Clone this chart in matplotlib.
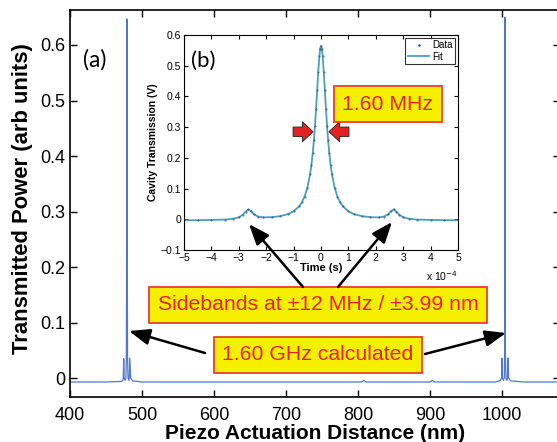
import numpy as np
import matplotlib
matplotlib.use('Agg')
import matplotlib.pyplot as plt
from matplotlib.patches import FancyArrowPatch

plt.rcParams['font.family'] = ['Liberation Sans', 'DejaVu Sans']

# main trace: piezo distance (nm) vs transmitted power
dist = [400, 450, 470, 473.0, 474.0, 474.6, 475.2, 476.5, 477.6, 478.3, 478.8, 479.1, 479.4, 479.9, 480.6,
        481.8, 482.4, 483.0, 484.2, 487, 500, 600, 700, 805, 808, 811, 820, 900, 903, 906, 915,
        990, 997.0, 999.4, 1000.0, 1000.6, 1002.0, 1003.1, 1003.6, 1004.0, 1004.3, 1004.7, 1005.4,
        1006.8, 1007.5, 1008.1, 1009.2, 1012, 1030, 1080]
power = [-0.007, -0.007, -0.006, -0.005, 0.0, 0.035, 0.0, -0.004, 0.0, 0.04, 0.30, 0.647, 0.30, 0.04, 0.0,
         -0.004, 0.0, 0.036, 0.0, -0.005, -0.007, -0.007, -0.007, -0.007, -0.004, -0.007, -0.007, -0.007, -0.004, -0.007, -0.007,
         -0.007, -0.005, 0.0, 0.036, 0.0, -0.004, 0.0, 0.04, 0.65, 0.65, 0.04, 0.0,
         -0.004, 0.0, 0.036, 0.0, -0.005, -0.007, -0.007]

# inset trace: time (x 1e-4 s) vs cavity transmission (V), right half mirrored
t_half = [0, 0.03, 0.06, 0.1, 0.14, 0.18, 0.22, 0.26, 0.3, 0.35, 0.4, 0.5, 0.6, 0.7, 0.8, 1.0,
          1.2, 1.5, 1.8, 2.1, 2.3, 2.45, 2.55, 2.65, 2.75, 2.85, 3.0, 3.2, 3.5, 4.0, 4.5, 5.0]
v_half = [0.565, 0.556, 0.531, 0.481, 0.420, 0.360, 0.305, 0.257, 0.217, 0.177, 0.146, 0.102, 0.074, 0.055, 0.042, 0.026,
          0.017, 0.010, 0.007, 0.006, 0.009, 0.016, 0.026, 0.032, 0.025, 0.015, 0.0065, 0.002, -0.001, -0.002, -0.003, -0.003]
t_in = [-x for x in t_half[::-1]] + t_half[1:]
v_in = v_half[::-1] + v_half[1:]

main_xticks = [400, 500, 600, 700, 800, 900, 1000]
main_yticks = [0, 0.1, 0.2, 0.3, 0.4, 0.5, 0.6]
inset_xticks = [-5, -4, -3, -2, -1, 0, 1, 2, 3, 4, 5]
inset_yticks = [-0.1, 0, 0.1, 0.2, 0.3, 0.4, 0.5, 0.6]

fig = plt.figure(figsize=(5.57, 4.42), dpi=100)
ax = fig.add_axes([70 / 557, 45 / 442, 490 / 557, 387 / 442])
ax.plot(dist, power, color='#5077cc', lw=0.9)
ax.set_xlim(400, 1080.5)
ax.set_ylim(-0.034, 0.663)
ax.set_xticks(main_xticks)
ax.set_yticks(main_yticks)
ax.set_yticklabels(['0', '0.1', '0.2', '0.3', '0.4', '0.5', '0.6'])
ax.tick_params(direction='in', top=True, right=True, labelsize=13, length=5, width=1)
ax.tick_params(axis='x', pad=7)
for s in ax.spines.values():
    s.set_linewidth(1.2)
ax.set_xlabel('Piezo Actuation Distance (nm)', fontsize=15, fontweight='bold', labelpad=0)
ax.set_ylabel('Transmitted Power (arb units)', fontsize=15.8, fontweight='bold')
ax.yaxis.set_label_coords(-0.076, 0.514)
ax.text(0.026, 0.855, '(a)', transform=ax.transAxes, fontsize=16.5, family='Lato')

# inset
ins = fig.add_axes([184 / 557, 192 / 442, 274 / 557, 215 / 442])
ins.plot(t_in, v_in, color='#4d9fbc', lw=1.3, label='Fit')
ins.plot(t_in, v_in, ls='none', marker='.', ms=0.8, color='#1d5a86', label='Data')
ins.set_xlim(-5, 5)
ins.set_ylim(-0.1, 0.6)
ins.set_xticks(inset_xticks)
ins.set_xticklabels(['\u22125', '\u22124', '\u22123', '\u22122', '\u22121', '0', '1', '2', '3', '4', '5'])
ins.set_yticks(inset_yticks)
ins.set_yticklabels(['\u22120.1', '0', '0.1', '0.2', '0.3', '0.4', '0.5', '0.6'])
ins.tick_params(direction='in', top=True, right=True, labelsize=7.5, length=3, pad=2)
ins.set_xlabel('Time (s)', fontsize=8, fontweight='bold', labelpad=0)
ins.set_ylabel('Cavity Transmission (V)', fontsize=7.5, fontweight='bold', labelpad=2)
ins.text(1.0, -0.09, 'x 10$^{-4}$', transform=ins.transAxes, fontsize=7.5, ha='right', va='top')
ins.text(0.025, 0.85, '(b)', transform=ins.transAxes, fontsize=16, family='Lato')
h, l = ins.get_legend_handles_labels()
ins.legend(h[::-1], l[::-1], loc='upper right', fontsize=7, frameon=True, fancybox=False,
           edgecolor='black', handlelength=2.2, borderpad=0.25, labelspacing=0.15,
           handletextpad=0.3, borderaxespad=0.3, markerscale=2).get_frame().set_linewidth(0.8)

# red FWHM arrows
red_arrow = dict(arrowstyle='simple,head_length=0.45,head_width=0.85,tail_width=0.4',
                 fc='#e32222', ec='#222222', lw=0.6, mutation_scale=17, shrinkA=0, shrinkB=0)
ins.annotate('', xy=(-0.29, 0.285), xytext=(-1.02, 0.285), arrowprops=red_arrow)
ins.annotate('', xy=(0.29, 0.285), xytext=(1.02, 0.285), arrowprops=red_arrow)

box = dict(boxstyle='square,pad=0.4', fc='#f5f000', ec='#e8402a', lw=1.3)
fig.text(388 / 557, 1 - 104 / 442, '1.60 MHz', fontsize=15.3, color='#e3231c',
         ha='center', va='center', bbox=box)
fig.text(318 / 557, 1 - 305 / 442, 'Sidebands at \u00b112 MHz / \u00b13.99 nm', fontsize=15.3,
         color='#e3231c', ha='center', va='center', bbox=box)
fig.text(318 / 557, 1 - 355 / 442, '1.60 GHz calculated', fontsize=15.3, color='#e3231c',
         ha='center', va='center', bbox=box)

def fig_px(x, y):
    return (x / 557, 1 - y / 442)

for tail, tip in [((205, 353), (129, 331)), ((425, 354), (506, 333)),
                  ((303, 287), (249, 224)), ((338, 287), (392, 222))]:
    fig.add_artist(FancyArrowPatch(fig_px(*tail), fig_px(*tip), transform=fig.transFigure,
                                   arrowstyle='-|>,head_length=0.9,head_width=0.35',
                                   mutation_scale=14, color='black', lw=1.8,
                                   shrinkA=0, shrinkB=0, zorder=5))

fig.savefig('out.png', dpi=100)
